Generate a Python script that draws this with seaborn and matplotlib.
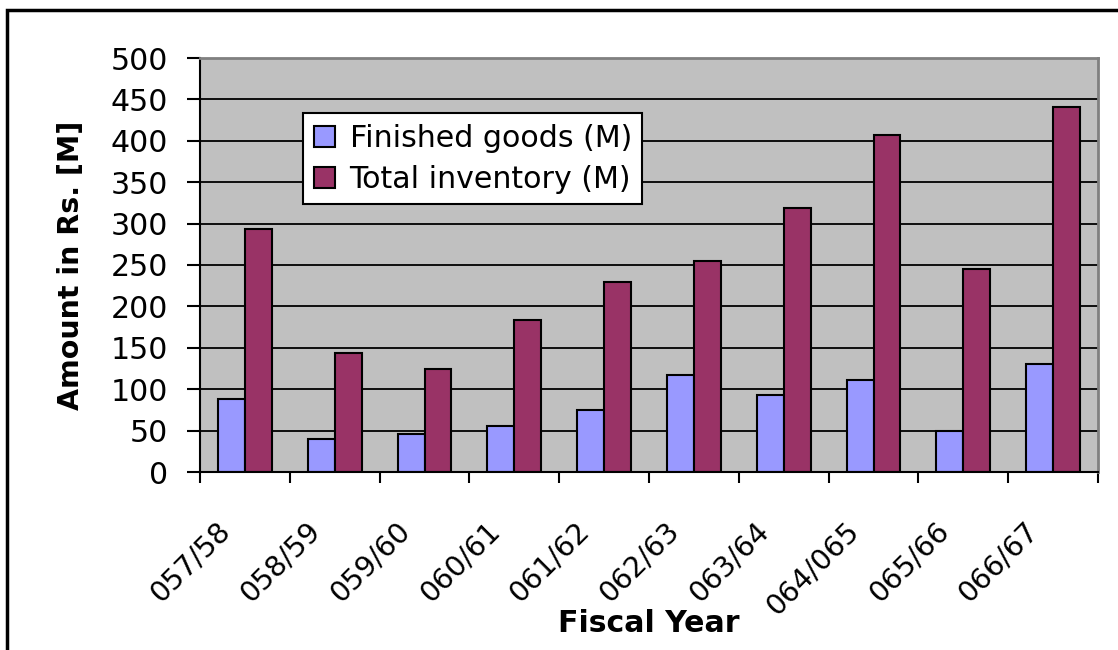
import matplotlib
matplotlib.use("Agg")
import matplotlib.pyplot as plt
import matplotlib.transforms as mtransforms
from matplotlib.patches import Rectangle, Patch
import seaborn as sns
import pandas as pd
import numpy as np

years = ["057/58", "058/59", "059/60", "060/61", "061/62",
         "062/63", "063/64", "064/065", "065/66", "066/67"]
finished_goods = [88, 40, 46, 56, 75, 117, 93, 111, 50, 130]
total_inventory = [293, 144, 125, 184, 229, 255, 319, 407, 245, 441]
series_names = ["Finished goods (M)", "Total inventory (M)"]
colors = ["#9999FF", "#993366"]

df = pd.DataFrame({
    "Fiscal Year": years * 2,
    "Amount": finished_goods + total_inventory,
    "Series": [series_names[0]] * len(years) + [series_names[1]] * len(years),
})

sns.set_theme(style="ticks")
plt.rcParams["font.family"] = ["DejaVu Sans"]
plt.rcParams["text.color"] = "black"
plt.rcParams["axes.labelcolor"] = "black"
plt.rcParams["xtick.color"] = "black"
plt.rcParams["ytick.color"] = "black"
plt.rcParams["xtick.labelcolor"] = "black"
plt.rcParams["ytick.labelcolor"] = "black"

fig = plt.figure(figsize=(11.18, 6.5), dpi=100)
ax = fig.add_axes([200/1118, 1-472/650, 898/1118, 414/650])

sns.barplot(data=df, x="Fiscal Year", y="Amount", hue="Series",
            palette=colors, width=0.6, edgecolor="black", linewidth=1.5,
            ax=ax, legend=False, saturation=1)

ax.set_facecolor("#C0C0C0")
ax.set_ylim(0, 500)
ax.set_xlim(-0.5, len(years) - 0.5)
ax.set_yticks(np.arange(0, 501, 50))
ax.yaxis.grid(True, color="black", linewidth=1.3)
ax.set_axisbelow(True)

for s in ["left", "bottom"]:
    ax.spines[s].set_color("black")
    ax.spines[s].set_linewidth(1.5)
for s in ["top", "right"]:
    ax.spines[s].set_color("#808080")
    ax.spines[s].set_linewidth(2)

# x ticks: marks at category boundaries, labels at centers
ax.set_xticks(np.arange(-0.5, len(years), 1.0))
ax.set_xticklabels([])
ax.set_xticks(np.arange(len(years)), minor=True)
ax.set_xticklabels(years, minor=True)
ax.tick_params(axis="x", which="major", length=8, width=1.5, direction="out", color="black")
ax.tick_params(axis="x", which="minor", length=0, pad=32, labelsize=20.5, labelcolor="black")
offset = mtransforms.ScaledTranslation(-29/100, 0, fig.dpi_scale_trans)
for lbl in ax.get_xticklabels(minor=True):
    lbl.set_rotation(45)
    lbl.set_ha("right")
    lbl.set_va("top")
    lbl.set_rotation_mode("anchor")
    lbl.set_transform(lbl.get_transform() + offset)

ax.tick_params(axis="y", length=9.4, width=1.5, direction="out", pad=13.5,
               labelsize=21.6, color="black", labelcolor="black")

ax.set_xlabel("Fiscal Year", fontsize=21.6, fontweight="bold", color="black")
ax.xaxis.set_label_coords(0.5, -0.33)
ax.set_ylabel("Amount in Rs. [M]", fontsize=20.5, fontweight="bold", color="black")
ax.yaxis.set_label_coords(-0.128, 0.5)

handles = [Patch(facecolor=c, edgecolor="black", linewidth=1.5) for c in colors]
leg = ax.legend(handles, series_names, loc="upper left",
                bbox_to_anchor=(0.1147, 0.867), borderaxespad=0,
                fontsize=21.6, frameon=True, fancybox=False, framealpha=1,
                edgecolor="black", handlelength=0.7, handleheight=0.7,
                handletextpad=0.5, borderpad=0.35, labelspacing=0.4)
leg.get_frame().set_linewidth(1.5)
for t in leg.get_texts():
    t.set_color("black")

# outer chart border
fig.patches.append(Rectangle((7/1118, -0.1), 1.2, 1.1 - 10/650,
                             transform=fig.transFigure, fill=False,
                             edgecolor="black", linewidth=2.5, clip_on=False))

fig.savefig("out.png", dpi=100, facecolor="white")
